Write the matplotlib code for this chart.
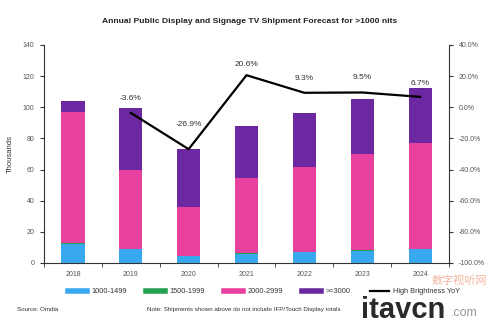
import matplotlib
matplotlib.use("Agg")
import matplotlib.pyplot as plt
from matplotlib.lines import Line2D
import numpy as np

years = ["2018", "2019", "2020", "2021", "2022", "2023", "2024"]
s_1000_1499 = [12.5, 8.8, 4.5, 6.0, 6.9, 7.9, 8.8]
s_1500_1999 = [0.5, 0.3, 0.2, 0.2, 0.3, 0.3, 0.3]
s_2000_2999 = [84.0, 50.6, 31.5, 48.6, 54.7, 62.0, 68.0]
s_3000_plus = [6.8, 40.0, 36.8, 33.2, 34.2, 35.1, 35.3]
yoy_years = ["2019", "2020", "2021", "2022", "2023", "2024"]
yoy = [-3.6, -26.9, 20.6, 9.3, 9.5, 6.7]
yoy_label_offsets = [8, 15, 5, 8, 8, 7]
left_ticks = [0, 20, 40, 60, 80, 100, 120, 140]
right_ticks = [-100, -80, -60, -40, -20, 0, 20, 40]

c_blue = "#3AA8EE"
c_green = "#23A050"
c_pink = "#E8409E"
c_purple = "#6B28A0"
tick_col = "#555555"

plt.rcParams["font.family"] = ["Liberation Sans", "Noto Sans CJK SC", "DejaVu Sans"]

fig = plt.figure(figsize=(5.0, 3.34), dpi=100)
ax = fig.add_axes([0.088, 0.2126, 0.81, 0.6527])
x = np.arange(len(years))
w = 0.4
b = np.zeros(len(years))
for vals, col in [(s_1000_1499, c_blue), (s_1500_1999, c_green), (s_2000_2999, c_pink), (s_3000_plus, c_purple)]:
    ax.bar(x, vals, w, bottom=b, color=col, zorder=2)
    b = b + np.array(vals)

ax.set_xlim(-0.5, len(years) - 0.5)
ax.set_ylim(0, 140)
ax.set_yticks(left_ticks)
ax.set_yticklabels([str(t) for t in left_ticks], fontsize=5, color=tick_col)
ax.set_xticks(x)
ax.set_xticklabels(years, fontsize=5, color=tick_col)
ax.tick_params(axis="x", length=0, pad=6)
ax.set_xticks(np.arange(-0.5, len(years) + 0.5, 1), minor=True)
ax.tick_params(axis="x", which="minor", length=3, color="#333333", direction="out")
ax.tick_params(axis="y", length=3, color="#333333", pad=4)
for s in ["top", "right"]:
    ax.spines[s].set_visible(False)
ax.spines["left"].set_color("#333333")
ax.spines["bottom"].set_color("#333333")
ax.set_ylabel("Thousands", fontsize=5.5, color="#333333", labelpad=6)

ax2 = ax.twinx()
ax2.set_ylim(-100, 40)
ax2.set_yticks(right_ticks)
ax2.set_yticklabels([f"{t:.1f}%" for t in right_ticks], fontsize=5, color=tick_col)
ax2.tick_params(axis="y", length=3, color="#333333", pad=4)
for s in ["top", "left", "bottom"]:
    ax2.spines[s].set_visible(False)
ax2.spines["right"].set_color("#333333")
xi = [years.index(y) for y in yoy_years]
ax2.plot(xi, yoy, color="black", lw=1.6, zorder=3)
for xx, v, off in zip(xi, yoy, yoy_label_offsets):
    ax2.annotate(f"{v}%", (xx, v), xytext=(0, off), textcoords="offset points",
                 ha="center", va="bottom", fontsize=6, color="#333333")

fig.text(0.5, 0.935, "Annual Public Display and Signage TV Shipment Forecast for >1000 nits",
         ha="center", va="center", fontsize=6.1, fontweight="bold", color="#222222")

handles = [Line2D([], [], color=c_blue, lw=4),
           Line2D([], [], color=c_green, lw=4),
           Line2D([], [], color=c_pink, lw=4),
           Line2D([], [], color=c_purple, lw=4),
           Line2D([], [], color="black", lw=1.6)]
labels = ["1000-1499", "1500-1999", "2000-2999", ">=3000", "High Brightness YoY"]
fig.legend(handles, labels, loc="center left", bbox_to_anchor=(0.135, 0.126), ncol=5, frameon=False,
           fontsize=5.3, handlelength=2.6, columnspacing=2.6, handletextpad=0.6, labelcolor="#333333",
           borderaxespad=0, borderpad=0)

fig.text(0.034, 0.072, "Source: Omdia", fontsize=4.5, color="#333333", va="center")
fig.text(0.294, 0.072, "Note: Shipments shown above do not include IFP/Touch Display totals",
         fontsize=4.5, color="#333333", va="center")

fig.text(0.864, 0.16, "数字视听网", fontsize=8, color="#F0A080", ha="left", va="center", alpha=0.8)
fig.text(0.722, 0.072, "itavcn", fontsize=21, color="#2a2a2a", ha="left", va="center", fontweight="bold")
fig.text(0.902, 0.062, ".com", fontsize=9, color="#999999", ha="left", va="center")

fig.savefig("out.png", dpi=100)
